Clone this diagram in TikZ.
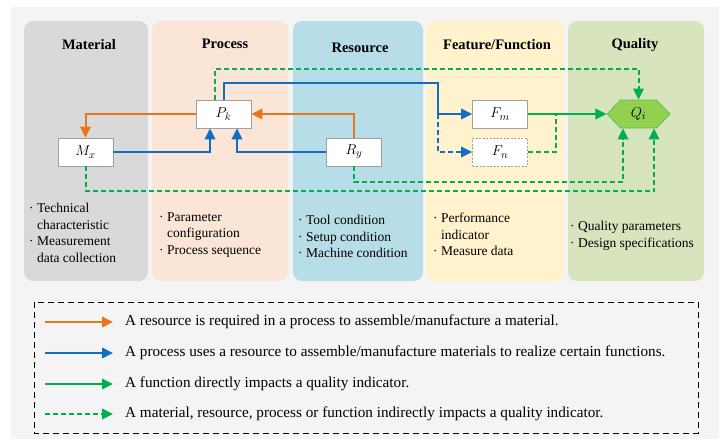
\documentclass[tikz,border=0pt]{standalone}
\usepackage{fontspec}
\setmainfont{Liberation Serif}
\usetikzlibrary{arrows.meta,shapes.symbols}

\begin{document}
\begin{tikzpicture}[x=1pt, y=-1pt, >={Triangle[length=11pt,width=10.5pt]},
		font=\fontsize{13.5}{16.5}\selectfont,
		box/.style={draw=gray!75, fill=white, line width=0.8pt, minimum width=55pt, minimum height=28pt, inner sep=0pt, font=\fontsize{15}{17}\selectfont},
		title/.style={font=\fontsize{14.5}{17}\selectfont\bfseries},
		note/.style={anchor=north west, align=left, inner sep=0pt},
		legtext/.style={anchor=west, inner sep=0pt, font=\fontsize{15.2}{18}\selectfont},
		link/.style={->, line width=2pt},
		idash/.style={->, line width=2pt, dash pattern=on 5pt off 3pt, greenline}]
	\definecolor{bggray}{RGB}{244, 244, 244}
	\definecolor{matgray}{RGB}{217, 217, 217}
	\definecolor{procpeach}{RGB}{251, 229, 214}
	\definecolor{resblue}{RGB}{183, 222, 232}
	\definecolor{featyellow}{RGB}{255, 242, 204}
	\definecolor{qualgreen}{RGB}{215, 228, 189}
	\definecolor{orangeline}{RGB}{232, 118, 30}
	\definecolor{blueline}{RGB}{20, 108, 196}
	\definecolor{greenline}{RGB}{0, 176, 80}
	\definecolor{qfill}{RGB}{146, 208, 80}
	\newcommand{\gap}{\phantom{\textperiodcentered\ }}
	\useasboundingbox (0,0) rectangle (722,439);
	\fill[bggray] (11,7) rectangle (719,439);
	% columns
	\fill[matgray, rounded corners=9pt] (24,21) rectangle (148,281);
	\fill[procpeach, rounded corners=9pt] (152,21) rectangle (288,281);
	\fill[resblue, rounded corners=9pt] (293,21) rectangle (423,281);
	\fill[featyellow, rounded corners=9pt] (426,21) rectangle (564,281);
	\fill[qualgreen, rounded corners=9pt] (568,21) rectangle (704,281);
	\node[title] (mattitle) at (89,45) {Material};
	\node[title] (proctitle) at (225,44) {Process};
	\node[title] (restitle) at (360,48) {Resource};
	\node[title] (feattitle) at (497,45) {Feature/Function};
	\node[title] (qualtitle) at (635,45) {Quality};
	% elements
	\node[box] (Mx) at (85.5,152) {$M_x$};
	\node[box] (Pk) at (223.5,114) {$P_k$};
	\node[box] (Ry) at (354,152) {$R_y$};
	\node[box] (Fm) at (500,114) {$F_m$};
	\node[box, dash pattern=on 2pt off 1.5pt] (Fn) at (500,152) {$F_n$};
	\node[signal, signal to=east and west, signal pointer angle=92, fill=qfill, draw=greenline!40!qfill,
		line width=0.8pt, minimum width=63pt, minimum height=28pt, inner sep=0pt, font=\fontsize{15}{17}\selectfont] (Qi) at (638.5,114) {$Q_i$};
	\coordinate (bsplit) at (438,114);
	\coordinate (gjoin) at (556,114);
	% orange
	\draw[link, orangeline] (Pk.west) -| (Mx.north);
	\draw[link, orangeline] (Ry.north) |- (Pk.east);
	% blue
	\draw[link, blueline] (Mx.east) -| ([xshift=-13.5pt]Pk.south);
	\draw[link, blueline] (Ry.west) -| ([xshift=13.5pt]Pk.south);
	\draw[line width=2pt, blueline] (Pk.north) -- ++(0,-17) -| (bsplit);
	\draw[link, blueline] (bsplit) -- (Fm.west);
	\draw[link, blueline, dash pattern=on 5pt off 3pt] (bsplit) |- (Fn.west);
	% green
	\draw[link, greenline] (Fm.east) -- (Qi.west);
	\draw[line width=2pt, greenline, dash pattern=on 5pt off 3pt] (Fn.east) -| (gjoin);
	\draw[idash] ([xshift=-8.5pt]Pk.north) -- ++(0,-31) -| (Qi.north);
	\draw[idash] (Ry.south) -- ++(0,16) -| ([xshift=-15.5pt]Qi.south);
	\draw[idash] (Mx.south) -- ++(0,25) -| ([xshift=15.5pt]Qi.south);
	% notes
	\node[note] (matnote) at (29,203) {\textperiodcentered\ Technical\\\gap characteristic\\\textperiodcentered\ Measurement\\\gap data collection};
	\node[note] (procnote) at (159,212) {\textperiodcentered\ Parameter\\\gap configuration\\\textperiodcentered\ Process sequence};
	\node[note] (resnote) at (298,215) {\textperiodcentered\ Tool condition\\\textperiodcentered\ Setup condition\\\textperiodcentered\ Machine condition};
	\node[note] (featnote) at (433,213) {\textperiodcentered\ Performance\\\gap indicator\\\textperiodcentered\ Measure data};
	\node[note] (qualnote) at (570,221) {\textperiodcentered\ Quality parameters\\\textperiodcentered\ Design specifications};
	% legend
	\draw[line width=0.8pt, dash pattern=on 6pt off 4pt] (34,302) rectangle (698,433);
	\node[legtext] (leg1) at (125,322) {A resource is required in a process to assemble/manufacture a material.};
	\node[legtext] (leg2) at (125,353) {A process uses a resource to assemble/manufacture materials to realize certain functions.};
	\node[legtext] (leg3) at (125,384) {A function directly impacts a quality indicator.};
	\node[legtext] (leg4) at (125,414) {A material, resource, process or function indirectly impacts a quality indicator.};
	\draw[link, orangeline] ([xshift=-80pt]leg1.west) -- ([xshift=-12pt]leg1.west);
	\draw[link, blueline] ([xshift=-80pt]leg2.west) -- ([xshift=-12pt]leg2.west);
	\draw[link, greenline] ([xshift=-80pt]leg3.west) -- ([xshift=-12pt]leg3.west);
	\draw[idash] ([xshift=-80pt]leg4.west) -- ([xshift=-12pt]leg4.west);
\end{tikzpicture}
\end{document}
